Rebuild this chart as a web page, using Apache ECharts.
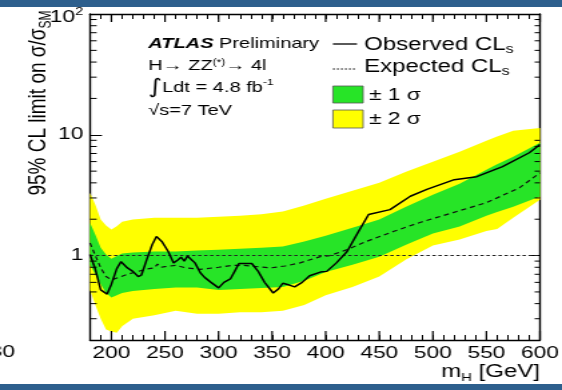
<!DOCTYPE html>
<html><head><meta charset="utf-8">
<script src="https://cdn.jsdelivr.net/npm/echarts@6/dist/echarts.min.js"></script>
<style>
html,body{margin:0;padding:0;background:#fff;overflow:hidden;width:562px;height:390px}
#wrap{width:562px;height:390px;overflow:hidden;position:relative}
#chart{width:421px;height:390px;transform:scaleX(1.3349);transform-origin:0 0}
</style></head><body><div id="wrap"><div id="chart"></div></div>
<script>
// ---- data ----
const bandMass    = [180,185,190,195,200,205,210,220,240,260,280,300,320,340,360,380,400,425,450,475,500,525,550,560,575,600];
const yellowUpper = [3.32,2.64,1.99,1.77,1.64,1.75,1.91,1.99,2.06,2.06,2.06,2.10,2.14,2.20,2.32,2.60,2.95,3.44,4.01,4.94,5.98,7.24,8.92,9.7,10.8,11.4];
const yellowLower = [0.52,0.39,0.30,0.244,0.235,0.23,0.26,0.30,0.32,0.35,0.33,0.33,0.34,0.34,0.35,0.39,0.47,0.55,0.67,0.93,1.21,1.36,1.60,1.66,2.06,2.90];
const greenUpper  = [1.87,1.49,1.16,1.02,0.94,0.99,1.04,1.06,1.08,1.08,1.10,1.12,1.14,1.16,1.19,1.31,1.46,1.70,1.99,2.54,3.19,3.94,5.14,5.7,6.58,8.59];
const greenLower  = [0.84,0.70,0.58,0.49,0.45,0.47,0.49,0.51,0.53,0.545,0.545,0.52,0.53,0.54,0.55,0.62,0.73,0.84,0.98,1.23,1.52,1.74,2.14,2.3,2.54,3.08];

const expMass  = [180,185,190,195,200,207,215,225,235,240,243,246,250,260,270,283,300,313,323,330,348,362,376,395,404,420,438,463,488,519,550,581,600];
const expValue = [1.27,1.0,0.79,0.67,0.63,0.66,0.70,0.74,0.78,0.79,0.85,0.80,0.81,0.83,0.79,0.77,0.80,0.83,0.83,0.82,0.79,0.82,0.87,0.98,1.0,1.12,1.31,1.58,1.88,2.27,2.74,3.65,4.85];

const obsMass  = [180,185,190,196,200,205,209,215,220,225,228,233,238,242,247,253,258,262,265,268,271,275,278,283,287,293,300,305,311,315,319,331,337,343,351,356,360,366,371,378,385,395,401,410,420,430,440,460,479,495,520,541,565,590,600];
const obsValue = [1.02,0.77,0.52,0.48,0.58,0.78,0.89,0.79,0.74,0.67,0.69,0.93,1.23,1.44,1.31,1.08,0.87,0.92,0.97,0.90,0.99,0.92,0.87,0.72,0.66,0.60,0.54,0.60,0.64,0.74,0.86,0.86,0.74,0.60,0.49,0.53,0.59,0.57,0.55,0.60,0.68,0.73,0.74,0.87,1.08,1.55,2.19,2.40,3.10,3.55,4.25,4.50,5.45,7.1,8.3];

const xMajorTicks = [200,250,300,350,400,450,500,550,600];
const xTickLabels = ['200','250','300','350','400','450','500','550','600'];
const yMajorTicks = [1,10,100];
const yTickLabels = ['1','10','{n|10}{s|2}'];
const yMinorTicks = [0.3,0.4,0.5,0.6,0.7,0.8,0.9,2,3,4,5,6,7,8,9,20,30,40,50,60,70,80,90];
const referenceLine = 1;

const FONT = 'Liberation Sans, Arial, Helvetica, sans-serif';
const chart = echarts.init(document.getElementById('chart'), null, {renderer:'canvas'});

function bandSeries(upper, lower, color, z){
  return {
    type:'custom', z:z, silent:true, clip:true,
    data:[[bandMass[0], upper[0]]],
    renderItem:function(params, api){
      const pts=[];
      for(let i=0;i<bandMass.length;i++) pts.push(api.coord([bandMass[i], upper[i]]));
      for(let i=bandMass.length-1;i>=0;i--) pts.push(api.coord([bandMass[i], lower[i]]));
      return {type:'polygon', shape:{points:pts}, style:{fill:color, stroke:null}};
    }
  };
}

const axisLineStyle = {color:'#000', width:1.4};
function subStyle(size, drop){ return {fontFamily:FONT, fontSize:size, verticalAlign:'bottom', fill:'#000', padding:[drop,0,0,0]}; }

const option = {
  animation:false,
  backgroundColor:'#fff',
  grid:{left:67.4, right:16.5, top:14, bottom:50, containLabel:false, outerBoundsMode:'none'},
  xAxis:[
    {type:'value', position:'bottom', min:180, max:600, interval:10,
     axisLine:{show:true, onZero:false, lineStyle:axisLineStyle},
     axisTick:{show:true, inside:true, length:5, lineStyle:{color:'#000', width:1}},
     splitLine:{show:false},
     axisLabel:{margin:5, fontFamily:FONT, fontSize:17, color:'#000',
       formatter:function(v){const i=xMajorTicks.indexOf(Math.round(v)); return i>=0?xTickLabels[i]:'';}}},
    {type:'value', position:'top', min:180, max:600, interval:10,
     axisLine:{show:true, onZero:false, lineStyle:axisLineStyle},
     axisTick:{show:true, inside:true, length:5, lineStyle:{color:'#000', width:1}},
     splitLine:{show:false}, axisLabel:{show:false}}
  ],
  yAxis:[
    {type:'log', logBase:10, min:0.2, max:100, position:'left',
     axisLine:{show:true, onZero:false, lineStyle:axisLineStyle},
     axisTick:{show:true, inside:true, length:9, lineStyle:{color:'#000', width:1}},
     splitLine:{show:false},
     axisLabel:{margin:5, fontFamily:FONT, fontSize:17, color:'#000',
       formatter:function(v){
         for(let i=0;i<yMajorTicks.length;i++){ if(Math.abs(v-yMajorTicks[i])<1e-6*yMajorTicks[i]) return yTickLabels[i]; }
         return '';
       },
       rich:{n:{fontFamily:FONT, fontSize:17, color:'#000', padding:[6,0,0,0]},
             s:{fontFamily:FONT, fontSize:11, color:'#000', verticalAlign:'top', padding:[4,0,0,0]}}}},
    {type:'log', logBase:10, min:0.2, max:100, position:'right',
     axisLine:{show:true, onZero:false, lineStyle:axisLineStyle},
     axisTick:{show:true, inside:true, length:7, lineStyle:{color:'#000', width:1}},
     splitLine:{show:false}, axisLabel:{show:false}}
  ],
  series:[
    bandSeries(yellowUpper, yellowLower, '#ffff00', 1),
    bandSeries(greenUpper, greenLower, '#27e427', 2),
    {type:'line', name:'Expected', z:4, silent:true, showSymbol:false, symbol:'none',
     data:expMass.map((m,i)=>[m, expValue[i]]),
     lineStyle:{color:'#111', width:1.2, type:[4,3]},
     markLine:{silent:true, symbol:['none','none'], label:{show:false},
       lineStyle:{color:'#222', width:1.1, type:[2.5,2]},
       data:[{yAxis:referenceLine}]}},
    {type:'line', name:'Observed', z:5, silent:true, showSymbol:false, symbol:'none',
     data:obsMass.map((m,i)=>[m, obsValue[i]]),
     lineStyle:{color:'#000', width:1.5}},
    {type:'custom', z:6, silent:true, clip:false,
     data:xMajorTicks.map(m=>[m, 1]),
     renderItem:function(params, api){
       const m=api.value(0);
       const b=api.coord([m, 0.2]); const t=api.coord([m, 100]);
       return {type:'group', children:[
         {type:'line', shape:{x1:b[0], y1:b[1], x2:b[0], y2:b[1]-9}, style:{stroke:'#000', lineWidth:1.2}},
         {type:'line', shape:{x1:t[0], y1:t[1], x2:t[0], y2:t[1]+8}, style:{stroke:'#000', lineWidth:1.2}}
       ]};
     }},
    {type:'custom', z:6, silent:true, clip:false,
     data:yMinorTicks.map(v=>[180, v]),
     renderItem:function(params, api){
       const v=api.value(1);
       const l=api.coord([180, v]); const r=api.coord([600, v]);
       return {type:'group', children:[
         {type:'line', shape:{x1:l[0], y1:l[1], x2:l[0]+5, y2:l[1]}, style:{stroke:'#000', lineWidth:1}},
         {type:'line', shape:{x1:r[0], y1:r[1], x2:r[0]-4, y2:r[1]}, style:{stroke:'#000', lineWidth:1}}
       ]};
     }}
  ],
  graphic:[
    {type:'rect', shape:{x:0, y:0, width:421, height:7}, style:{fill:'#2d5f8d'}, z:100},
    {type:'rect', shape:{x:0, y:384, width:421, height:6}, style:{fill:'#2d5f8d'}, z:100},
    {type:'text', x:11.2, y:352, style:{text:'30', font:'17px '+FONT, fill:'#000', textAlign:'right', textVerticalAlign:'middle'}},
    {type:'text', x:28.8, y:103, rotation:Math.PI/2,
     style:{text:'95% CL limit on σ/σ{sub|SM}', fontFamily:FONT, fontSize:19, fill:'#000', textAlign:'center', textVerticalAlign:'middle',
       rich:{sub:subStyle(12, 12)}}},
    {type:'text', x:404.5, y:372,
     style:{text:'m{sub|H} [GeV]', fontFamily:FONT, fontSize:18, fill:'#000', textAlign:'right', textVerticalAlign:'middle',
       rich:{sub:subStyle(11, 11)}}},
    {type:'text', x:111, y:44,
     style:{text:'{b|ATLAS} Preliminary', fontFamily:FONT, fontSize:15, fill:'#000', textVerticalAlign:'middle',
       rich:{b:{fontFamily:FONT, fontSize:15, fontWeight:'bold', fontStyle:'italic', fill:'#000'}}}},
    {type:'text', x:111, y:66,
     style:{text:'H→ ZZ{sup|(*)}→ 4l', fontFamily:FONT, fontSize:15, fill:'#000', textVerticalAlign:'middle',
       rich:{sup:{fontFamily:FONT, fontSize:9, verticalAlign:'top', fill:'#000'}}}},
    {type:'text', x:111, y:88,
     style:{text:'{i|∫}Ldt = 4.8 fb{sup|-1}', fontFamily:FONT, fontSize:15, fill:'#000', textVerticalAlign:'middle',
       rich:{i:{fontFamily:'DejaVu Sans', fontSize:20, fill:'#000'}, sup:{fontFamily:FONT, fontSize:9, verticalAlign:'top', fill:'#000'}}}},
    {type:'text', x:111, y:111,
     style:{text:'√s=7 TeV', fontFamily:FONT, fontSize:15, fill:'#000', textVerticalAlign:'middle'}},
    {type:'line', shape:{x1:249.4, y1:44, x2:267.4, y2:44}, style:{stroke:'#000', lineWidth:1.3}},
    {type:'text', x:272.7, y:45,
     style:{text:'Observed CL{sub|s}', fontFamily:FONT, fontSize:18, fill:'#000', textVerticalAlign:'middle',
       rich:{sub:subStyle(12, 10)}}},
    {type:'line', shape:{x1:249.4, y1:69, x2:267.4, y2:69}, style:{stroke:'#000', lineWidth:1, lineDash:[1.5,1.5]}},
    {type:'text', x:272.7, y:67,
     style:{text:'Expected CL{sub|s}', fontFamily:FONT, fontSize:18, fill:'#000', textVerticalAlign:'middle',
       rich:{sub:subStyle(12, 10)}}},
    {type:'rect', shape:{x:249.4, y:86, width:22.6, height:17}, style:{fill:'#27e427', stroke:'#555', lineWidth:0.8}},
    {type:'text', x:276.4, y:95,
     style:{text:'± 1 σ', fontFamily:FONT, fontSize:17, fill:'#000', textVerticalAlign:'middle'}},
    {type:'rect', shape:{x:249.4, y:110, width:22.6, height:18}, style:{fill:'#ffff00', stroke:'#555', lineWidth:0.8}},
    {type:'text', x:276.4, y:119,
     style:{text:'± 2 σ', fontFamily:FONT, fontSize:17, fill:'#000', textVerticalAlign:'middle'}}
  ]
};
chart.setOption(option);
</script></body></html>
